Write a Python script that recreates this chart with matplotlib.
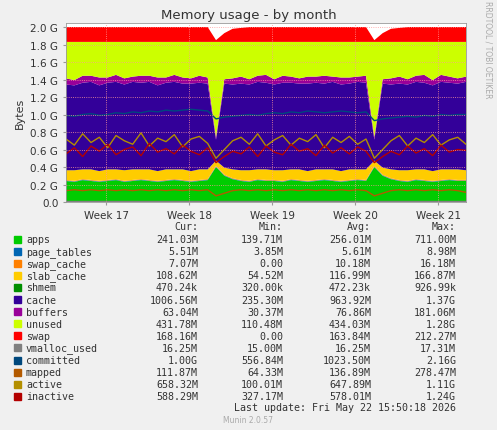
import numpy as np
import matplotlib
matplotlib.use("Agg")
import matplotlib.pyplot as plt

G = 1e9
apps = [0.24,0.23,0.25,0.24,0.23,0.24,0.25,0.23,0.24,0.25,0.24,0.23,0.24,0.25,0.24,0.23,0.24,0.25,0.40,0.30,0.26,0.24,0.23,0.25,0.24,0.24,0.23,0.25,0.24,0.23,0.24,0.25,0.24,0.23,0.24,0.25,0.24,0.40,0.30,0.26,0.24,0.23,0.25,0.24,0.23,0.24,0.25,0.24,0.24]
slab = [0.11,0.12,0.11,0.12,0.11,0.12,0.11,0.12,0.12,0.11,0.12,0.11,0.12,0.11,0.12,0.11,0.12,0.11,0.06,0.08,0.10,0.11,0.12,0.11,0.12,0.11,0.12,0.11,0.12,0.11,0.12,0.11,0.12,0.11,0.12,0.11,0.12,0.06,0.08,0.10,0.11,0.12,0.11,0.12,0.11,0.12,0.11,0.12,0.11]
cache = [0.98,0.97,0.99,1.00,0.98,0.99,1.00,0.98,1.00,0.99,1.00,0.98,0.99,1.00,0.98,1.00,0.99,0.98,0.24,0.96,0.97,0.99,0.98,1.00,0.99,0.98,1.00,0.99,0.98,1.00,0.99,0.98,1.00,0.99,0.98,1.00,0.99,0.24,0.96,0.97,0.99,0.98,1.00,0.99,0.98,1.00,0.99,0.98,1.01]
buffers = [0.07,0.06,0.08,0.07,0.09,0.06,0.08,0.07,0.06,0.08,0.07,0.09,0.06,0.08,0.07,0.06,0.08,0.07,0.03,0.05,0.07,0.08,0.06,0.07,0.09,0.06,0.08,0.07,0.06,0.08,0.07,0.09,0.06,0.08,0.07,0.06,0.08,0.03,0.05,0.07,0.08,0.06,0.07,0.09,0.06,0.08,0.07,0.06,0.06]
swap = [0.17,0.17,0.17,0.17,0.17,0.17,0.17,0.17,0.17,0.17,0.17,0.17,0.17,0.17,0.17,0.17,0.17,0.17,0.02,0.10,0.15,0.16,0.17,0.17,0.17,0.17,0.17,0.17,0.17,0.17,0.17,0.17,0.17,0.17,0.17,0.17,0.17,0.02,0.10,0.15,0.16,0.17,0.17,0.17,0.17,0.17,0.17,0.17,0.17]
committed = [0.99,0.98,1.00,1.01,0.99,1.00,1.02,1.01,1.03,1.02,1.04,1.03,1.05,1.04,1.05,1.06,1.05,1.04,0.95,0.97,0.98,0.99,1.00,0.99,1.01,1.02,1.01,1.03,1.02,1.04,1.03,1.02,1.03,1.04,1.03,1.02,1.03,0.93,0.95,0.96,0.97,0.98,0.97,0.99,0.98,1.00,0.99,1.00,1.00]
active = [0.72,0.65,0.78,0.68,0.74,0.62,0.76,0.70,0.66,0.79,0.64,0.73,0.69,0.77,0.63,0.72,0.75,0.67,0.50,0.60,0.70,0.74,0.66,0.78,0.64,0.71,0.76,0.65,0.73,0.69,0.77,0.62,0.74,0.68,0.75,0.66,0.72,0.50,0.60,0.70,0.76,0.64,0.73,0.68,0.77,0.65,0.71,0.74,0.66]
inactive = [0.55,0.62,0.52,0.64,0.58,0.66,0.54,0.60,0.63,0.53,0.67,0.57,0.61,0.55,0.65,0.58,0.54,0.62,0.45,0.52,0.58,0.55,0.63,0.52,0.64,0.57,0.54,0.66,0.58,0.61,0.53,0.65,0.56,0.62,0.55,0.63,0.58,0.45,0.52,0.58,0.54,0.64,0.56,0.61,0.53,0.65,0.57,0.60,0.59]
mapped_v = [0.13,0.14,0.13,0.14,0.13,0.14,0.13,0.14,0.13,0.14,0.13,0.14,0.13,0.14,0.13,0.14,0.13,0.14,0.07,0.10,0.13,0.14,0.13,0.14,0.13,0.14,0.13,0.14,0.13,0.14,0.13,0.14,0.13,0.14,0.13,0.14,0.13,0.07,0.10,0.13,0.14,0.13,0.14,0.13,0.14,0.13,0.14,0.13,0.11]
RAM = 1.83
page_tables = [0.0056]*49
swap_cache = [0.007]*49
shmem = [0.0005]*49
vmalloc = [0.016]*49

names = ["apps","page_tables","swap_cache","slab_cache","shmem","cache","buffers","unused","swap",
         "vmalloc_used","committed","mapped","active","inactive"]
colors = ["#00CC00","#0066B3","#FF8000","#FFCC00","#008F00","#330099","#990099","#CCFF00","#FF0000",
          "#808080","#00487D","#B35A00","#B38F00","#B30000"]
cur = ["241.03M","5.51M","7.07M","108.62M","470.24k","1006.56M","63.04M","431.78M","168.16M","16.25M","1.00G","111.87M","658.32M","588.29M"]
mn = ["139.71M","3.85M","0.00","54.52M","320.00k","235.30M","30.37M","110.48M","0.00","15.00M","556.84M","64.33M","100.01M","327.17M"]
av = ["256.01M","5.61M","10.18M","116.99M","472.23k","963.92M","76.86M","434.03M","163.84M","16.25M","1023.50M","136.89M","647.89M","578.01M"]
mx = ["711.00M","8.98M","16.18M","166.87M","926.99k","1.37G","181.06M","1.28G","212.27M","17.31M","2.16G","278.47M","1.11G","1.24G"]
week_labels = ["Week 17","Week 18","Week 19","Week 20","Week 21"]
week_pos = [3.37,10.37,17.37,24.37,31.37]

x = np.linspace(0, 33.7, 49)
a = lambda l: np.array(l)
used = a(apps)+a(page_tables)+a(swap_cache)+a(slab)+a(shmem)+a(cache)+a(buffers)
unused = RAM - used
stack = [a(apps),a(page_tables),a(swap_cache),a(slab),a(shmem),a(cache),a(buffers),unused,a(swap)]

fig = plt.figure(figsize=(4.97,4.31), dpi=100, facecolor="#F0F0F0")
ax = fig.add_axes([66/497, 1-203/431, 400/497, 179/431], facecolor="white")
ax.stackplot(x, *[s*G for s in stack], colors=colors[:9], linewidth=0)
for v, c in zip([vmalloc, committed, mapped_v, active, inactive], colors[9:]):
    ax.plot(x, a(v)*G, color=c, lw=1)
ax.set_xlim(0, 33.7)
ax.set_ylim(0, 2.046*G)
yt = np.arange(0, 2.01, 0.2)
ax.set_yticks(yt*G)
ax.set_yticklabels([f"{v:.1f} G" if v > 0 else "0.0" for v in yt], fontsize=7.5, color="#333333")
ax.set_xticks(week_pos)
ax.set_xticklabels(week_labels, fontsize=7.5, color="#333333")
ax.grid(True, color="#FF9999", ls=":", lw=0.6)
ax.set_axisbelow(False)
ax.tick_params(length=2, color="#999999")
for s in ax.spines.values():
    s.set_color("#999999"); s.set_linewidth(0.6)
ax.set_ylabel("Bytes", fontsize=8, color="#333333")
fig.text(0.5, 1-16/431, "Memory usage - by month", ha="center", va="center", fontsize=9.5, color="#333333")
fig.text(488/497, 1-50/431, "RRDTOOL / TOBI OETIKER", rotation=270, ha="center", va="center", fontsize=5.5, color="#AAAAAA")

fs = 7.2
def ty(y): return 1-y/431
for col, xp in zip(["Cur:","Min:","Avg:","Max:"], [198,283,371,456]):
    fig.text(xp/497, ty(227), col, ha="right", va="center", fontsize=fs, family="DejaVu Sans Mono", color="#333333")
for i, n in enumerate(names):
    y = 240 + i*12.1
    fig.patches.append(plt.Rectangle((14/497, ty(y)-3.5/431), 7/497, 7/431, transform=fig.transFigure, color=colors[i]))
    fig.text(26/497, ty(y), n, ha="left", va="center", fontsize=fs, family="DejaVu Sans Mono", color="#333333")
    for v, xp in zip([cur[i], mn[i], av[i], mx[i]], [198,283,371,456]):
        fig.text(xp/497, ty(y), v, ha="right", va="center", fontsize=fs, family="DejaVu Sans Mono", color="#333333")
fig.text(456/497, ty(408), "Last update: Fri May 22 15:50:18 2026", ha="right", va="center", fontsize=fs, family="DejaVu Sans Mono", color="#333333")
fig.text(248/497, ty(421), "Munin 2.0.57", ha="center", va="center", fontsize=5.5, color="#AAAAAA")
fig.savefig("out.png", dpi=100, facecolor=fig.get_facecolor())
